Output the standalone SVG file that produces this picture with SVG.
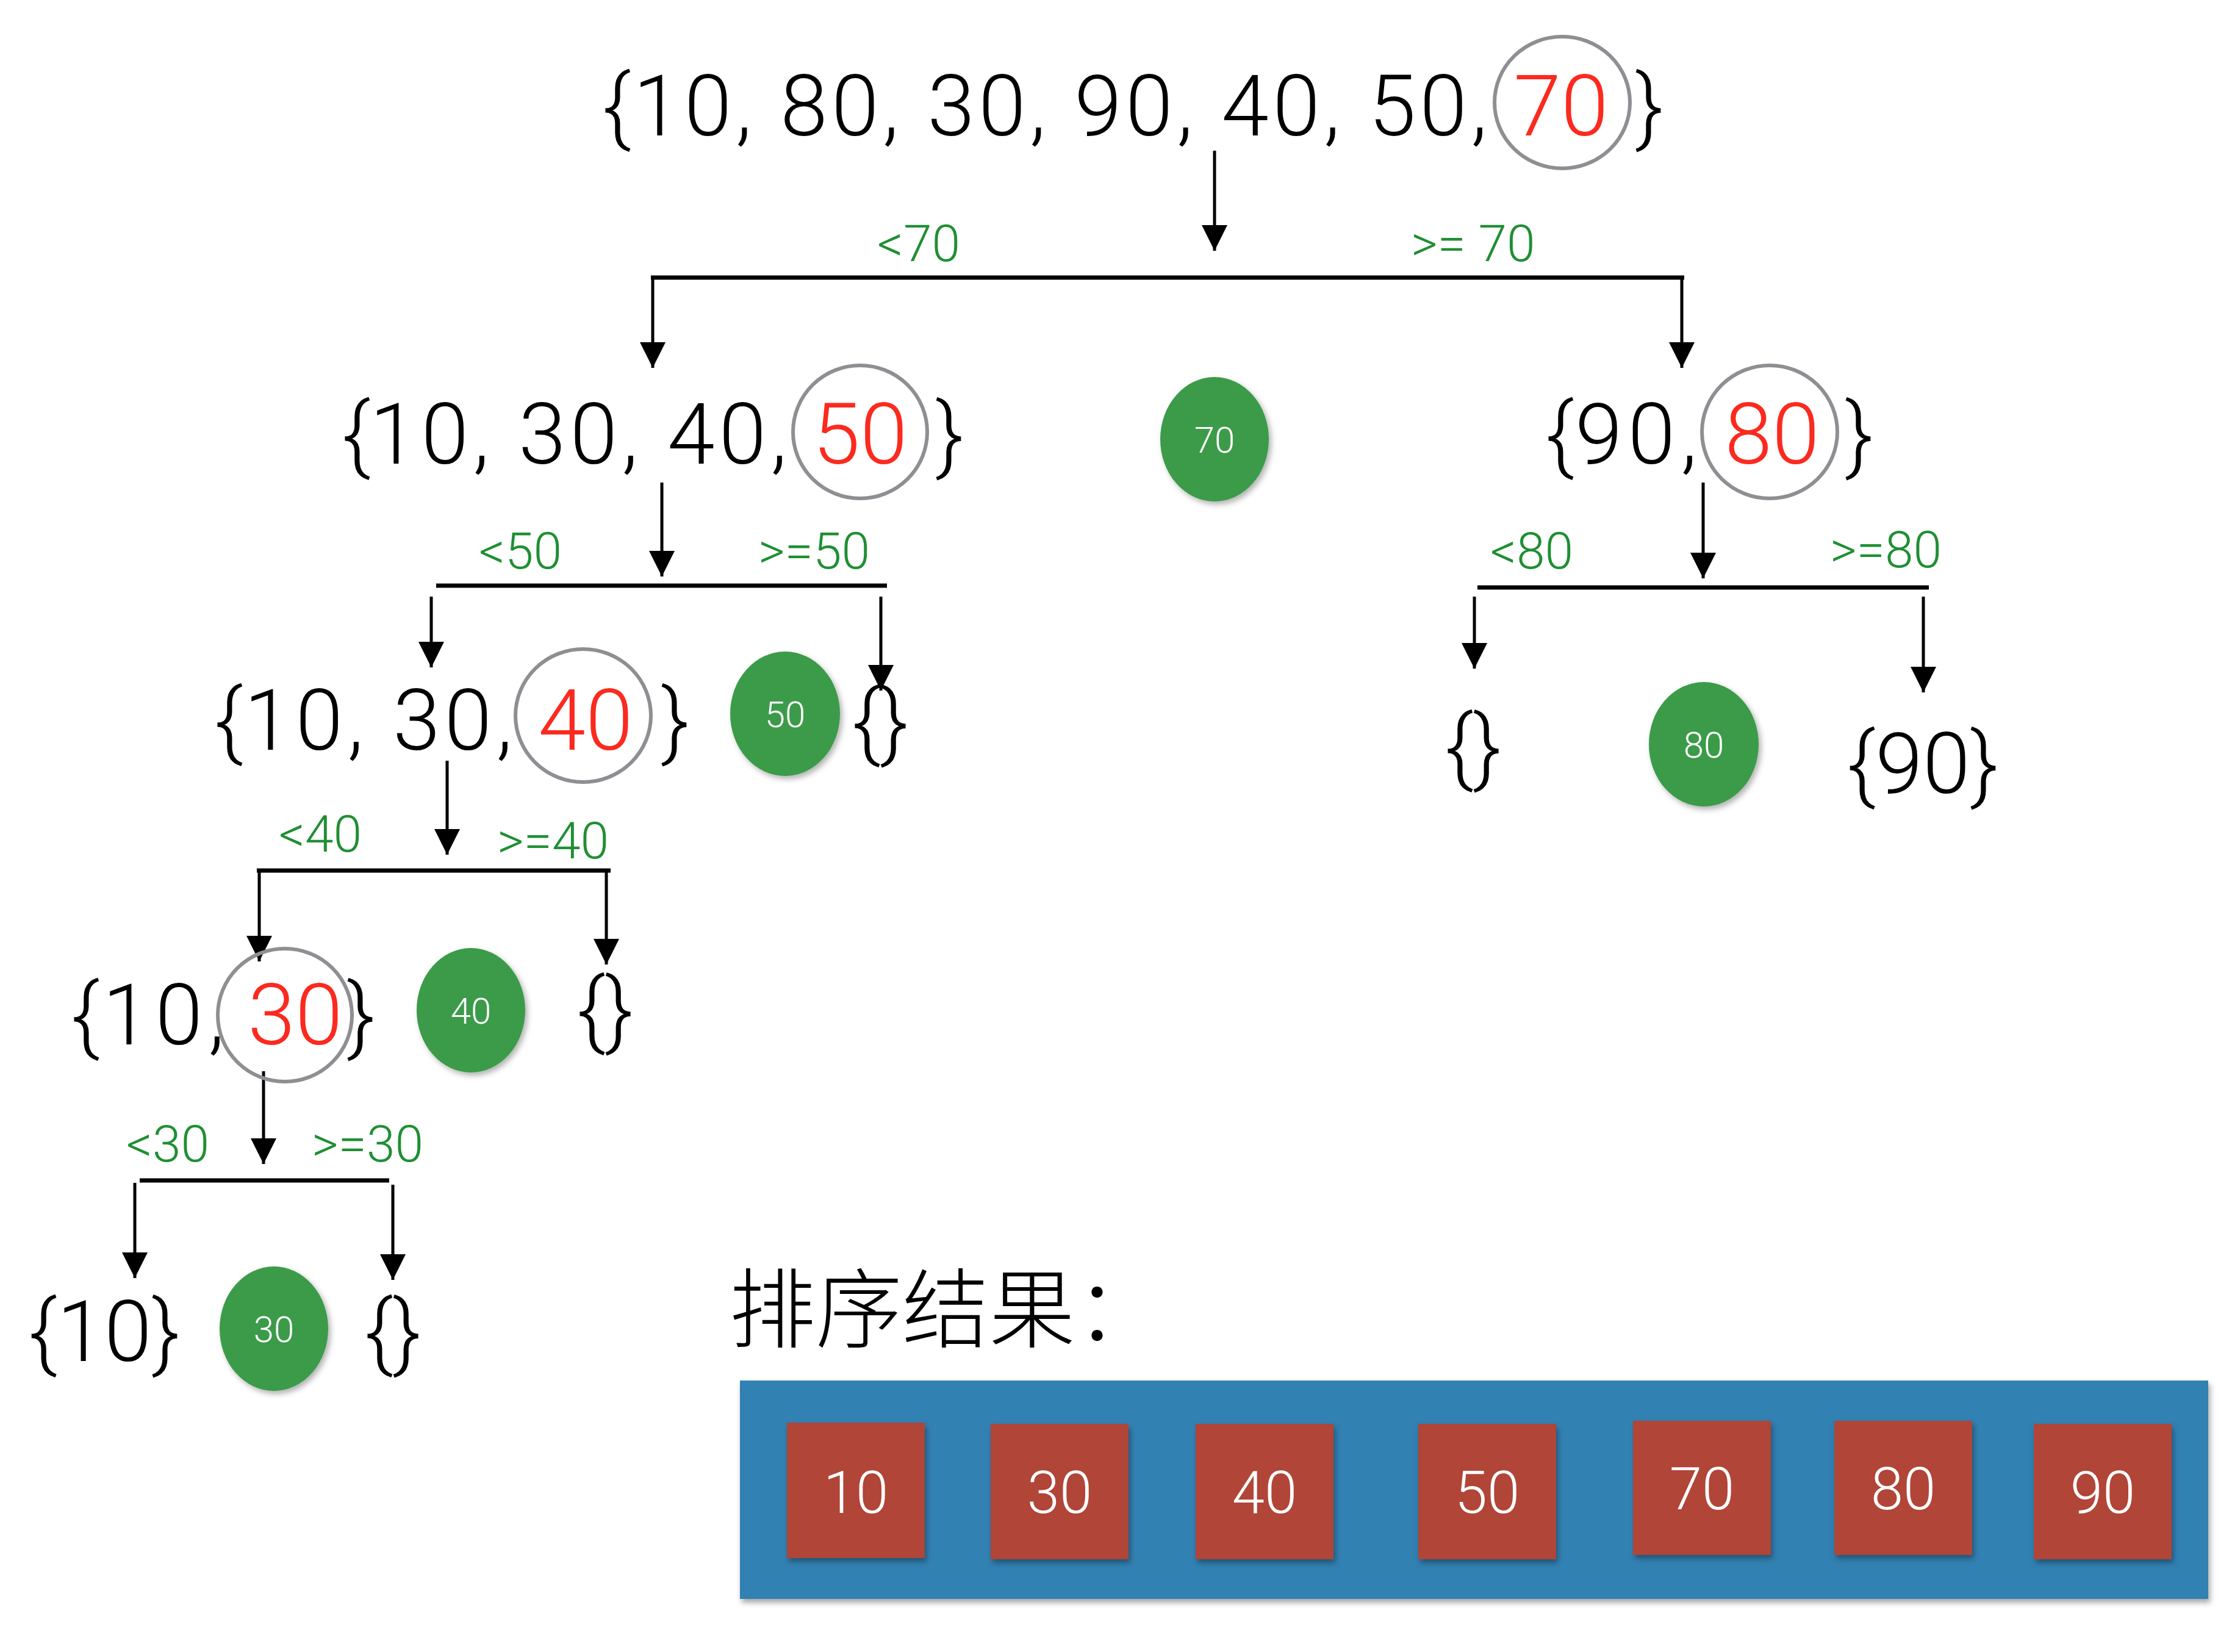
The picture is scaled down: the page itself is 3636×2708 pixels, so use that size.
<svg xmlns="http://www.w3.org/2000/svg" width="3636" height="2708" viewBox="0 0 3636 2708">
<style>
.t{font-family:Roboto,"Liberation Sans",sans-serif;font-weight:300;font-size:140px;fill:#000}
.r{fill:#fb2a1f}
.m{text-anchor:middle}
.ring{fill:none;stroke:#8e8e93;stroke-width:6}
.piv{fill:#3a9b48;filter:url(#sh)}
.pt{font-family:Roboto,"Liberation Sans",sans-serif;font-weight:300;font-size:60px;fill:#fff;text-anchor:middle}
.lbl{font-family:Roboto,"Liberation Sans",sans-serif;font-weight:300;font-size:84px;fill:#1f8f33}
.ar{stroke:#000;stroke-width:5;fill:none;marker-end:url(#ah)}
.bar{stroke:#000;stroke-width:7;fill:none}
.sq{fill:#b04538;filter:url(#sh2)}
.st{font-family:Roboto,"Liberation Sans",sans-serif;font-weight:300;font-size:96px;fill:#fff;text-anchor:middle}
</style>
<defs>
<marker id="ah" markerUnits="userSpaceOnUse" markerWidth="44" markerHeight="44" viewBox="0 0 44 44" refX="42" refY="22" orient="auto">
<path d="M0,1 L42,22 L0,43 z" fill="#000"/>
</marker>
<filter id="sh" x="-30%" y="-30%" width="170%" height="170%">
<feDropShadow dx="4" dy="5" stdDeviation="5" flood-color="#000" flood-opacity="0.3"/>
</filter>
<filter id="sh2" x="-20%" y="-20%" width="150%" height="150%">
<feDropShadow dx="3" dy="6" stdDeviation="5" flood-color="#000" flood-opacity="0.35"/>
</filter>
</defs>
<rect width="3636" height="2708" fill="#fff"/>

<g id="connectors">
<line class="ar" x1="1991" y1="247" x2="1991" y2="411"/>
<line class="bar" x1="1067" y1="455" x2="2761" y2="455"/>
<line class="ar" x1="1070" y1="455" x2="1070" y2="603"/>
<line class="ar" x1="2757" y1="455" x2="2757" y2="603"/>
<text class="lbl" x="1438" y="428">&lt;70</text>
<text class="lbl" x="2313" y="428">&gt;= 70</text>

<line class="ar" x1="1085" y1="791" x2="1085" y2="945"/>
<line class="bar" x1="715" y1="960" x2="1454" y2="960"/>
<line class="ar" x1="707" y1="978" x2="707" y2="1094"/>
<line class="ar" x1="1444" y1="978" x2="1444" y2="1132"/>
<text class="lbl" x="785" y="932">&lt;50</text>
<text class="lbl" x="1243" y="932">&gt;=50</text>

<line class="ar" x1="2792" y1="791" x2="2792" y2="948"/>
<line class="bar" x1="2422" y1="963" x2="3162" y2="963"/>
<line class="ar" x1="2417" y1="978" x2="2417" y2="1096"/>
<line class="ar" x1="3153" y1="978" x2="3153" y2="1135"/>
<text class="lbl" x="2443" y="932">&lt;80</text>
<text class="lbl" x="3000" y="930">&gt;=80</text>

<line class="ar" x1="733" y1="1247" x2="733" y2="1401"/>
<line class="bar" x1="421" y1="1427" x2="1001" y2="1427"/>
<line class="ar" x1="425" y1="1427" x2="425" y2="1576"/>
<line class="ar" x1="994" y1="1427" x2="994" y2="1581"/>
<text class="lbl" x="457" y="1396">&lt;40</text>
<text class="lbl" x="815" y="1407">&gt;=40</text>

<line class="ar" x1="432" y1="1756" x2="432" y2="1908"/>
<line class="bar" x1="229" y1="1935" x2="638" y2="1935"/>
<line class="ar" x1="221" y1="1939" x2="221" y2="2095"/>
<line class="ar" x1="644" y1="1942" x2="644" y2="2098"/>
<text class="lbl" x="207" y="1904">&lt;30</text>
<text class="lbl" x="511" y="1904">&gt;=30</text>
</g>

<g id="n-root">
<text class="t m" x="1011" y="222">{</text>
<text class="t" x="1038" y="222" textLength="1400" lengthAdjust="spacing">10, 80, 30, 90, 40, 50,</text>
<text class="t r m" x="2559" y="222">70</text>
<text class="t m" x="2704" y="222">}</text>
<ellipse class="ring" cx="2561" cy="168" rx="111" ry="108"/>
</g>

<g id="n-left1">
<text class="t m" x="584" y="760">{</text>
<text class="t" x="606" y="760" textLength="684" lengthAdjust="spacing">10, 30, 40,</text>
<text class="t r m" x="1410" y="760">50</text>
<text class="t m" x="1557" y="760">}</text>
<ellipse class="ring" cx="1410" cy="708" rx="110" ry="109"/>
</g>

<g id="pivot-70">
<ellipse class="piv" cx="1991" cy="720" rx="89" ry="102"/>
<text class="pt" x="1991" y="742">70</text>
</g>

<g id="n-right1">
<text class="t m" x="2557" y="760">{</text>
<text class="t" x="2582" y="760" textLength="200" lengthAdjust="spacing">90,</text>
<text class="t r m" x="2905" y="760">80</text>
<text class="t m" x="3048" y="760">}</text>
<ellipse class="ring" cx="2901" cy="708" rx="111" ry="109"/>
</g>

<g id="n-left2">
<text class="t m" x="375" y="1229">{</text>
<text class="t" x="400" y="1229" textLength="440" lengthAdjust="spacing">10, 30,</text>
<text class="t r m" x="960" y="1229">40</text>
<text class="t m" x="1107" y="1229">}</text>
<ellipse class="ring" cx="956" cy="1173" rx="111" ry="109"/>
</g>

<g id="pivot-50">
<ellipse class="piv" cx="1287" cy="1170" rx="90" ry="102"/>
<text class="pt" x="1287" y="1192">50</text>
</g>

<g id="n-empty-50">
<text class="t m" x="1443" y="1231">{}</text>
</g>

<g id="n-empty-80">
<text class="t m" x="2415" y="1272">{}</text>
</g>

<g id="pivot-80">
<ellipse class="piv" cx="2793" cy="1220" rx="90" ry="102"/>
<text class="pt" x="2793" y="1242">80</text>
</g>

<g id="n-90">
<text class="t m" x="3152" y="1300">{90}</text>
</g>

<g id="n-left3">
<text class="t m" x="140" y="1712">{</text>
<text class="t" x="168" y="1712" textLength="200" lengthAdjust="spacing">10,</text>
<text class="t r m" x="484" y="1712">30</text>
<text class="t m" x="592" y="1712">}</text>
<ellipse class="ring" cx="467" cy="1664" rx="110" ry="109"/>
</g>

<g id="pivot-40">
<ellipse class="piv" cx="772" cy="1656" rx="89" ry="102"/>
<text class="pt" x="772" y="1678">40</text>
</g>

<g id="n-empty-40">
<text class="t m" x="992" y="1703">{}</text>
</g>

<g id="n-10">
<text class="t m" x="171" y="2231">{10}</text>
</g>

<g id="pivot-30">
<ellipse class="piv" cx="449" cy="2178" rx="89" ry="102"/>
<text class="pt" x="449" y="2200">30</text>
</g>

<g id="n-empty-30">
<text class="t m" x="644" y="2231">{}</text>
</g>

<g id="result-title">
<text x="1195" y="2198" style="font-family:'Noto Sans CJK SC','Noto Sans CJK JP',sans-serif;font-weight:300;font-size:142px;fill:#000">排序结果：</text>
</g>

<g id="result-box">
<rect x="1213" y="2263" width="2407" height="358" fill="#3181b3" filter="url(#sh2)"/>
<rect class="sq" x="1290" y="2332" width="226" height="222"/>
<text class="st" x="1403" y="2480">10</text>
<rect class="sq" x="1624" y="2334" width="226" height="222"/>
<text class="st" x="1737" y="2480">30</text>
<rect class="sq" x="1960" y="2334" width="226" height="222"/>
<text class="st" x="2073" y="2480">40</text>
<rect class="sq" x="2325" y="2334" width="226" height="222"/>
<text class="st" x="2438" y="2480">50</text>
<rect class="sq" x="2677" y="2329" width="226" height="220"/>
<text class="st" x="2790" y="2474">70</text>
<rect class="sq" x="3007" y="2329" width="226" height="220"/>
<text class="st" x="3120" y="2474">80</text>
<rect class="sq" x="3334" y="2334" width="226" height="222"/>
<text class="st" x="3447" y="2480">90</text>
</g>
</svg>
